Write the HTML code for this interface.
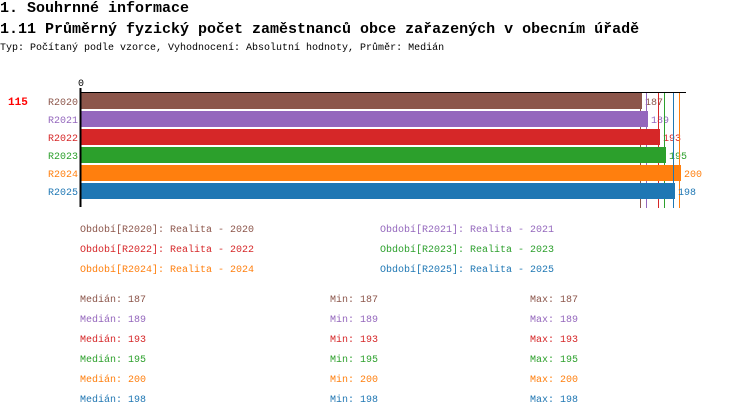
<!DOCTYPE html>
<html><head><meta charset="utf-8"><style>
body{margin:0;background:#fff;width:750px;height:416px;overflow:hidden;font-family:"Liberation Mono",monospace;}
.t{position:absolute;white-space:pre;}
</style></head><body>
<div class="t" style="left:0;top:0;font-size:15px;font-weight:bold;line-height:18px">1. Souhrnné informace</div>
<div class="t" style="left:0;top:21px;font-size:15px;font-weight:bold;line-height:18px">1.11 Průměrný fyzický počet zaměstnanců obce zařazených v obecním úřadě</div>
<div class="t" style="left:0;top:43px;font-size:10px;line-height:12px">Typ: Počítaný podle vzorce, Vyhodnocení: Absolutní hodnoty, Průměr: Medián</div>
<svg id="c" width="750" height="416" style="position:absolute;left:0;top:0"></svg>
<script>
const categories=["R2020","R2021","R2022","R2023","R2024","R2025"];
const values=[187,189,193,195,200,198];
const medians=[187,189,193,195,200,198];
const mins=[187,189,193,195,200,198];
const maxs=[187,189,193,195,200,198];
const legendNames=["Realita - 2020","Realita - 2021","Realita - 2022","Realita - 2023","Realita - 2024","Realita - 2025"];
const colors=["#8c564b","#9467bd","#d62728","#2ca02c","#ff7f0e","#1f77b4"];
const NS="http://www.w3.org/2000/svg";
const svg=document.getElementById('c');
const x=v=>81+v*3;
const y=i=>93+i*18;
function mk(t,a){const e=document.createElementNS(NS,t);for(const k in a)e.setAttribute(k,a[k]);svg.appendChild(e);return e;}
function tx(s,a){const e=mk('text',Object.assign({'font-family':'Liberation Mono, monospace','font-size':10},a));e.textContent=s;return e;}
let e;
e=tx('115',{x:8,y:105,fill:'#f00','font-weight':'bold','font-size':11});


e=tx('0',{x:78,y:86,fill:'#000'});


categories.forEach((c,i)=>{
 e=mk('rect',{x:x(0),y:y(i),width:x(values[i])-x(0),height:16,fill:colors[i]});
 
 
 e=tx(c,{x:78,y:y(i)+12,fill:colors[i],'text-anchor':'end'});
 
 
 e=tx(String(values[i]),{x:x(values[i])+3,y:y(i)+12,fill:colors[i]});
 
 
 e=mk('line',{x1:x(medians[i])-1.5,x2:x(medians[i])-1.5,y1:92,y2:208,stroke:colors[i],'stroke-width':1});
 
 
});
e=mk('line',{x1:80,x2:686,y1:92.5,y2:92.5,stroke:'#000','stroke-width':1});


e=mk('line',{x1:80.5,x2:80.5,y1:88,y2:207,stroke:'#000','stroke-width':2});


categories.forEach((c,i)=>{
 const lx=i%2?380:80, ly=232+Math.floor(i/2)*20;
 e=tx('Období['+c+']: '+legendNames[i],{x:lx,y:ly,fill:colors[i]});
 
 
 const sy=302+i*20;
 e=tx('Medián: '+medians[i],{x:80,y:sy,fill:colors[i]});
 
 
 e=tx('Min: '+mins[i],{x:330,y:sy,fill:colors[i]});
 
 
 e=tx('Max: '+maxs[i],{x:530,y:sy,fill:colors[i]});
 
 
});
</script>
</body></html>
